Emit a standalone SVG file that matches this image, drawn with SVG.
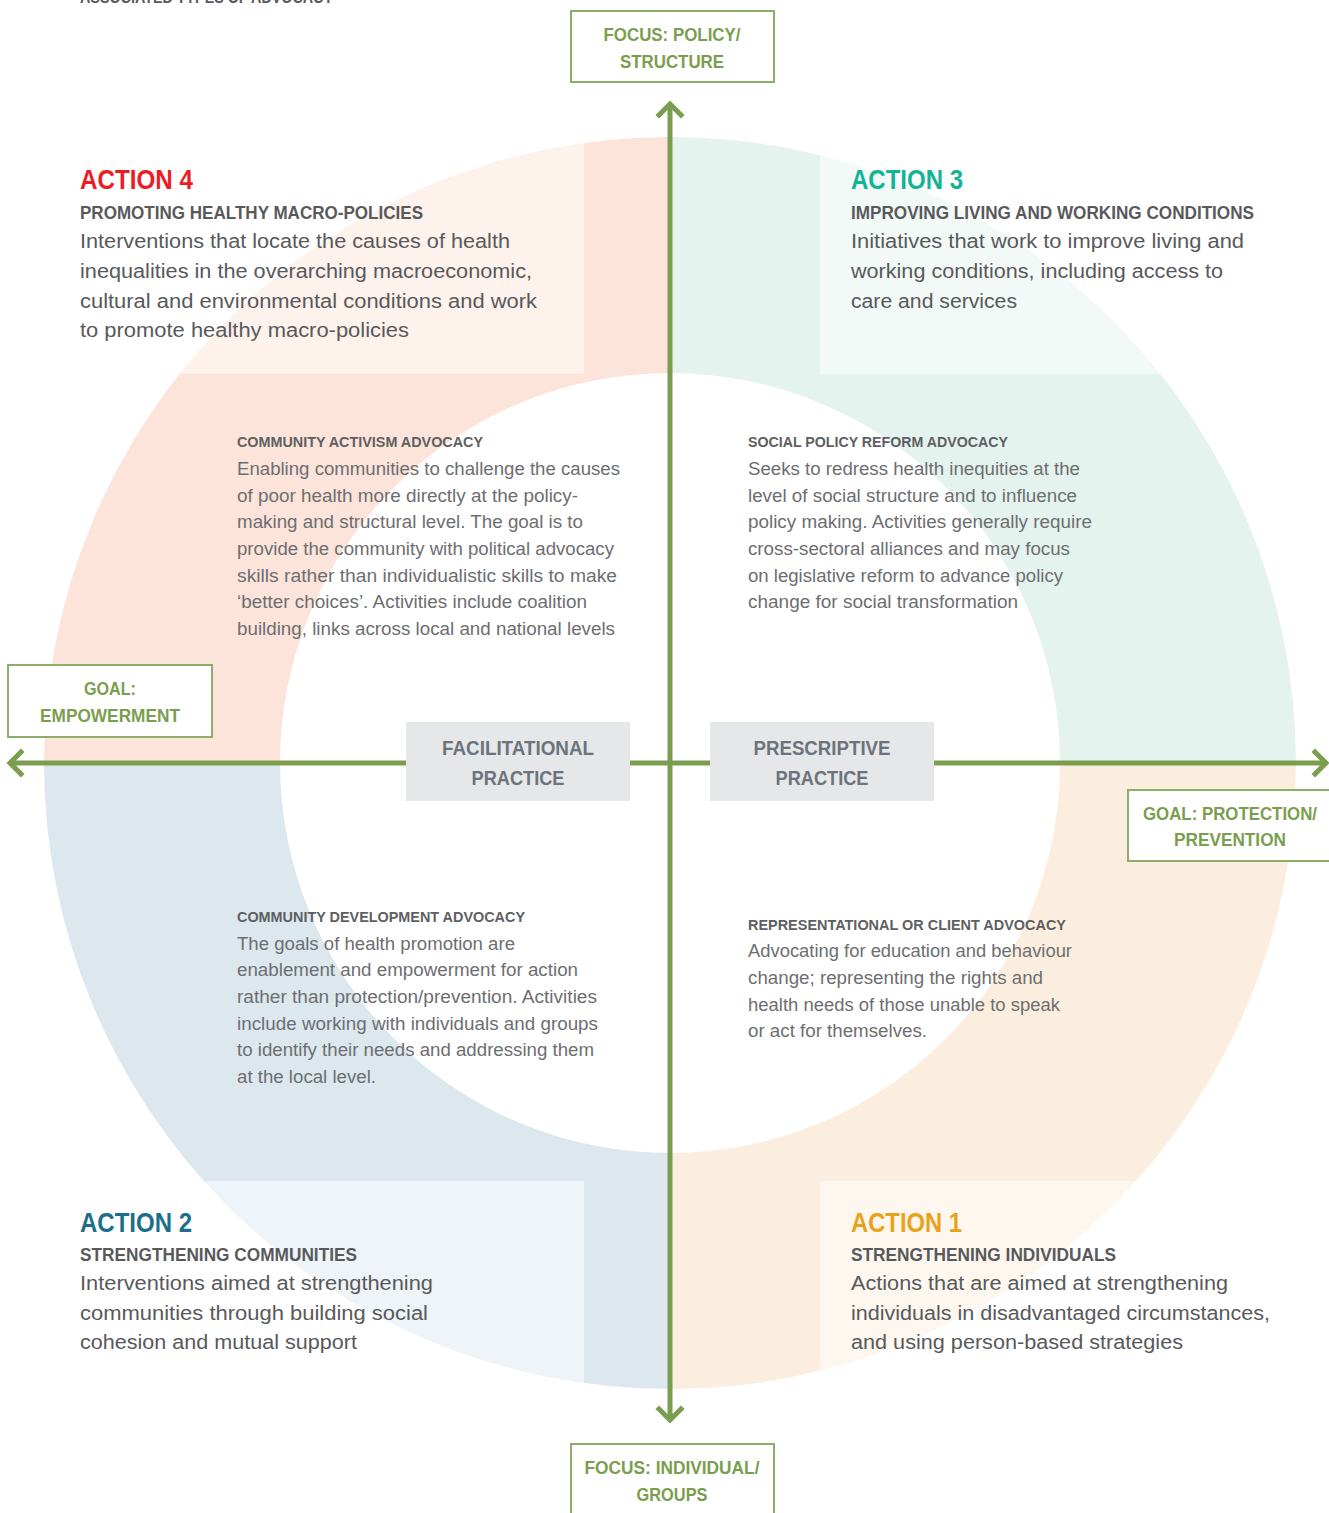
<svg xmlns="http://www.w3.org/2000/svg" width="1329" height="1513" viewBox="0 0 1329 1513">
<defs>
<style>
text{font-family:"Liberation Sans",Arial,sans-serif}
.act{font-size:27px;font-weight:bold}
.sub{font-size:17.5px;font-weight:bold;fill:#58595B}
.body{font-size:20px;fill:#58595B}
.ih{font-size:14.5px;font-weight:bold;fill:#5E5F62}
.ib{font-size:17.5px;fill:#6D6E71}
.lbl{font-size:17.5px;font-weight:bold;fill:#7A9E4E;text-anchor:middle}
.lbox{fill:#FFFFFF;stroke:#8DAE68;stroke-width:2}
.cbox{fill:#E6E7E9}
.ctxt{font-size:20px;font-weight:bold;fill:#6B737D;text-anchor:middle}
.ax{stroke:#7A9E4E;stroke-width:5;fill:none}
.head{stroke:#7A9E4E;stroke-width:5;fill:none;stroke-linecap:square;stroke-linejoin:miter}
.veil{fill:#FFFFFF;opacity:0.5}
</style>
</defs>
<rect width="1329" height="1513" fill="#FFFFFF"/>
<g id="ring">
<path d="M 44,763 A 626 626 0 0 1 670,137 L 670,373 A 390 390 0 0 0 280,763 Z" fill="#FCE4DA"/>
<path d="M 670,137 A 626 626 0 0 1 1296,763 L 1060,763 A 390 390 0 0 0 670,373 Z" fill="#E5F3EE"/>
<path d="M 1296,763 A 626 626 0 0 1 670,1389 L 670,1153 A 390 390 0 0 0 1060,763 Z" fill="#FCEEDF"/>
<path d="M 670,1389 A 626 626 0 0 1 44,763 L 280,763 A 390 390 0 0 0 670,1153 Z" fill="#DCE8EE"/>
<rect class="veil" x="0" y="0" width="584" height="374"/>
<rect class="veil" x="820" y="0" width="509" height="374"/>
<rect class="veil" x="0" y="1181" width="584" height="332"/>
<rect class="veil" x="820" y="1181" width="509" height="332"/>
</g>
<text x="80" y="3" class="sub" style="font-size:16px" textLength="253" lengthAdjust="spacingAndGlyphs">ASSOCIATED TYPES OF ADVOCACY</text>
<g id="connectors">
<line class="ax" x1="670" y1="106" x2="670" y2="1418"/>
<line class="ax" x1="11" y1="763" x2="1325" y2="763"/>
<polyline class="head" points="659,115 670,104 681,115"/>
<polyline class="head" points="659,1409 670,1420 681,1409"/>
<polyline class="head" points="21,752 10,763 21,774"/>
<polyline class="head" points="1315,752 1326,763 1315,774"/>
</g>
<g id="action4">
<text x="80" y="189" class="act" fill="#ED1C24" textLength="113" lengthAdjust="spacingAndGlyphs">ACTION 4</text>
<text x="80" y="219" class="sub" textLength="343" lengthAdjust="spacingAndGlyphs">PROMOTING HEALTHY MACRO-POLICIES</text>
<text x="80" y="248" class="body" textLength="430" lengthAdjust="spacingAndGlyphs">Interventions that locate the causes of health</text>
<text x="80" y="278" class="body" textLength="452" lengthAdjust="spacingAndGlyphs">inequalities in the overarching macroeconomic,</text>
<text x="80" y="308" class="body" textLength="457" lengthAdjust="spacingAndGlyphs">cultural and environmental conditions and work</text>
<text x="80" y="337" class="body" textLength="329" lengthAdjust="spacingAndGlyphs">to promote healthy macro-policies</text>
</g>
<g id="action3">
<text x="851" y="189" class="act" fill="#12B495" textLength="112" lengthAdjust="spacingAndGlyphs">ACTION 3</text>
<text x="851" y="219" class="sub" textLength="403" lengthAdjust="spacingAndGlyphs">IMPROVING LIVING AND WORKING CONDITIONS</text>
<text x="851" y="248" class="body" textLength="393" lengthAdjust="spacingAndGlyphs">Initiatives that work to improve living and</text>
<text x="851" y="278" class="body" textLength="372" lengthAdjust="spacingAndGlyphs">working conditions, including access to</text>
<text x="851" y="308" class="body" textLength="166" lengthAdjust="spacingAndGlyphs">care and services</text>
</g>
<g id="action2">
<text x="80" y="1232" class="act" fill="#1B6F8A" textLength="112" lengthAdjust="spacingAndGlyphs">ACTION 2</text>
<text x="80" y="1261" class="sub" textLength="277" lengthAdjust="spacingAndGlyphs">STRENGTHENING COMMUNITIES</text>
<text x="80" y="1290" class="body" textLength="353" lengthAdjust="spacingAndGlyphs">Interventions aimed at strengthening</text>
<text x="80" y="1320" class="body" textLength="348" lengthAdjust="spacingAndGlyphs">communities through building social</text>
<text x="80" y="1349" class="body" textLength="277" lengthAdjust="spacingAndGlyphs">cohesion and mutual support</text>
</g>
<g id="action1">
<text x="851" y="1232" class="act" fill="#E9A31B" textLength="111" lengthAdjust="spacingAndGlyphs">ACTION 1</text>
<text x="851" y="1261" class="sub" textLength="265" lengthAdjust="spacingAndGlyphs">STRENGTHENING INDIVIDUALS</text>
<text x="851" y="1290" class="body" textLength="377" lengthAdjust="spacingAndGlyphs">Actions that are aimed at strengthening</text>
<text x="851" y="1320" class="body" textLength="419" lengthAdjust="spacingAndGlyphs">individuals in disadvantaged circumstances,</text>
<text x="851" y="1349" class="body" textLength="332" lengthAdjust="spacingAndGlyphs">and using person-based strategies</text>
</g>
<g id="community-activism">
<text x="237" y="447" class="ih" textLength="246" lengthAdjust="spacingAndGlyphs">COMMUNITY ACTIVISM ADVOCACY</text>
<text x="237" y="475" class="ib" textLength="383" lengthAdjust="spacingAndGlyphs">Enabling communities to challenge the causes</text>
<text x="237" y="502" class="ib" textLength="341" lengthAdjust="spacingAndGlyphs">of poor health more directly at the policy-</text>
<text x="237" y="528" class="ib" textLength="346" lengthAdjust="spacingAndGlyphs">making and structural level. The goal is to</text>
<text x="237" y="555" class="ib" textLength="377" lengthAdjust="spacingAndGlyphs">provide the community with political advocacy</text>
<text x="237" y="582" class="ib" textLength="380" lengthAdjust="spacingAndGlyphs">skills rather than individualistic skills to make</text>
<text x="237" y="608" class="ib" textLength="350" lengthAdjust="spacingAndGlyphs">‘better choices’. Activities include coalition</text>
<text x="237" y="635" class="ib" textLength="378" lengthAdjust="spacingAndGlyphs">building, links across local and national levels</text>
</g>
<g id="social-policy-reform">
<text x="748" y="447" class="ih" textLength="260" lengthAdjust="spacingAndGlyphs">SOCIAL POLICY REFORM ADVOCACY</text>
<text x="748" y="475" class="ib" textLength="332" lengthAdjust="spacingAndGlyphs">Seeks to redress health inequities at the</text>
<text x="748" y="502" class="ib" textLength="329" lengthAdjust="spacingAndGlyphs">level of social structure and to influence</text>
<text x="748" y="528" class="ib" textLength="344" lengthAdjust="spacingAndGlyphs">policy making. Activities generally require</text>
<text x="748" y="555" class="ib" textLength="322" lengthAdjust="spacingAndGlyphs">cross-sectoral alliances and may focus</text>
<text x="748" y="582" class="ib" textLength="315" lengthAdjust="spacingAndGlyphs">on legislative reform to advance policy</text>
<text x="748" y="608" class="ib" textLength="270" lengthAdjust="spacingAndGlyphs">change for social transformation</text>
</g>
<g id="community-development">
<text x="237" y="922" class="ih" textLength="288" lengthAdjust="spacingAndGlyphs">COMMUNITY DEVELOPMENT ADVOCACY</text>
<text x="237" y="950" class="ib" textLength="278" lengthAdjust="spacingAndGlyphs">The goals of health promotion are</text>
<text x="237" y="976" class="ib" textLength="341" lengthAdjust="spacingAndGlyphs">enablement and empowerment for action</text>
<text x="237" y="1003" class="ib" textLength="360" lengthAdjust="spacingAndGlyphs">rather than protection/prevention. Activities</text>
<text x="237" y="1030" class="ib" textLength="361" lengthAdjust="spacingAndGlyphs">include working with individuals and groups</text>
<text x="237" y="1056" class="ib" textLength="357" lengthAdjust="spacingAndGlyphs">to identify their needs and addressing them</text>
<text x="237" y="1083" class="ib" textLength="139" lengthAdjust="spacingAndGlyphs">at the local level.</text>
</g>
<g id="representational">
<text x="748" y="930" class="ih" textLength="318" lengthAdjust="spacingAndGlyphs">REPRESENTATIONAL OR CLIENT ADVOCACY</text>
<text x="748" y="957" class="ib" textLength="324" lengthAdjust="spacingAndGlyphs">Advocating for education and behaviour</text>
<text x="748" y="984" class="ib" textLength="295" lengthAdjust="spacingAndGlyphs">change; representing the rights and</text>
<text x="748" y="1011" class="ib" textLength="312" lengthAdjust="spacingAndGlyphs">health needs of those unable to speak</text>
<text x="748" y="1037" class="ib" textLength="179" lengthAdjust="spacingAndGlyphs">or act for themselves.</text>
</g>
<g id="facilitational">
<rect class="cbox" x="406" y="722" width="224" height="79"/>
<text x="518" y="755" class="ctxt" textLength="152" lengthAdjust="spacingAndGlyphs">FACILITATIONAL</text>
<text x="518" y="785" class="ctxt" textLength="93" lengthAdjust="spacingAndGlyphs">PRACTICE</text>
</g>
<g id="prescriptive">
<rect class="cbox" x="710" y="722" width="224" height="79"/>
<text x="822" y="755" class="ctxt" textLength="137" lengthAdjust="spacingAndGlyphs">PRESCRIPTIVE</text>
<text x="822" y="785" class="ctxt" textLength="93" lengthAdjust="spacingAndGlyphs">PRACTICE</text>
</g>
<g id="focus-policy">
<rect class="lbox" x="571" y="11" width="203" height="71"/>
<text x="672" y="41" class="lbl" textLength="137" lengthAdjust="spacingAndGlyphs">FOCUS: POLICY/</text>
<text x="672" y="68" class="lbl" textLength="104" lengthAdjust="spacingAndGlyphs">STRUCTURE</text>
</g>
<g id="goal-empowerment">
<rect class="lbox" x="8" y="665" width="204" height="72"/>
<text x="110" y="695" class="lbl" textLength="52" lengthAdjust="spacingAndGlyphs">GOAL:</text>
<text x="110" y="722" class="lbl" textLength="140" lengthAdjust="spacingAndGlyphs">EMPOWERMENT</text>
</g>
<g id="goal-protection">
<rect class="lbox" x="1128" y="790" width="215" height="71"/>
<text x="1230" y="820" class="lbl" textLength="174" lengthAdjust="spacingAndGlyphs">GOAL: PROTECTION/</text>
<text x="1230" y="846" class="lbl" textLength="112" lengthAdjust="spacingAndGlyphs">PREVENTION</text>
</g>
<g id="focus-individual">
<rect class="lbox" x="571" y="1444" width="203" height="80"/>
<text x="672" y="1474" class="lbl" textLength="175" lengthAdjust="spacingAndGlyphs">FOCUS: INDIVIDUAL/</text>
<text x="672" y="1501" class="lbl" textLength="71" lengthAdjust="spacingAndGlyphs">GROUPS</text>
</g>
</svg>
